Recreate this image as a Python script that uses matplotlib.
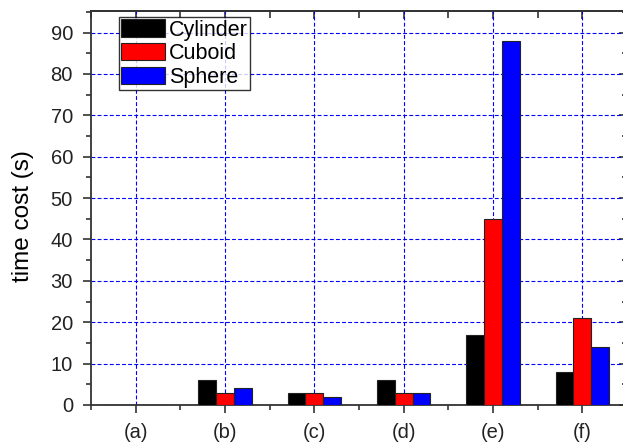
import numpy as np
import matplotlib.pyplot as plt
from matplotlib.ticker import MultipleLocator

plt.rcParams['font.family'] = ['Liberation Sans', 'DejaVu Sans']

# data
cases = ['(a)', '(b)', '(c)', '(d)', '(e)', '(f)']
cylinder = [0, 6, 3, 6, 17, 8]
cuboid = [0, 3, 3, 3, 45, 21]
sphere = [0, 4, 2, 3, 88, 14]

fig = plt.figure(figsize=(6.23, 4.43), dpi=100)
# right spine falls just outside the picture, like the reference crop
ax = fig.add_axes([91 / 623, 38 / 443, 536 / 623, 394 / 443])

x = np.arange(1, len(cases) + 1)
w = 0.2
ax.bar(x - w, cylinder, w, color='black', edgecolor='#222222', linewidth=0.8, label='Cylinder', zorder=3)
ax.bar(x, cuboid, w, color='red', edgecolor='#222222', linewidth=0.8, label='Cuboid', zorder=3)
ax.bar(x + w, sphere, w, color='blue', edgecolor='#222222', linewidth=0.8, label='Sphere', zorder=3)

ax.set_xlim(0.5, 6.5)
ax.set_ylim(0, 95.2)
ax.set_xticks(x)
ax.set_xticklabels(cases)
ax.xaxis.set_minor_locator(MultipleLocator(0.5))
ax.yaxis.set_major_locator(MultipleLocator(10))
ax.yaxis.set_minor_locator(MultipleLocator(5))

ax.grid(True, which='major', color='blue', linestyle=(0, (3.5, 2)), linewidth=0.8, zorder=1)

ax.tick_params(axis='both', which='both', labelsize=14.5, width=1.1, colors='#222222', direction='out')
ax.tick_params(axis='x', pad=7)
ax.tick_params(axis='y', pad=7)
ax.tick_params(which='major', length=6)
ax.tick_params(which='minor', length=3.5)
for sp in ax.spines.values():
    sp.set_linewidth(1.3)
    sp.set_color('#333333')

# top and right ticks point inward
top = ax.secondary_xaxis('top')
top.set_xticks(x)
top.xaxis.set_minor_locator(MultipleLocator(0.5))
top.tick_params(which='both', direction='in', labeltop=False, width=1.1, colors='#222222')
top.tick_params(which='major', length=6)
top.tick_params(which='minor', length=5)
right = ax.secondary_yaxis('right')
right.yaxis.set_major_locator(MultipleLocator(10))
right.yaxis.set_minor_locator(MultipleLocator(5))
right.tick_params(which='both', direction='in', labelright=False, width=1.1, colors='#222222')
right.tick_params(which='major', length=6)
right.tick_params(which='minor', length=3.5)
for s in (top, right):
    for sp in s.spines.values():
        sp.set_linewidth(1.3)
        sp.set_color('#333333')

ax.set_ylabel('time cost (s)', fontsize=17.5)
ax.yaxis.set_label_coords(-0.106, 0.48)

leg = ax.legend(loc='upper left', bbox_to_anchor=(0.052, 0.985), fontsize=15.5,
                frameon=True, fancybox=False, shadow=False, borderpad=0.12,
                handlelength=2.0, handleheight=0.85, handletextpad=0.2,
                labelspacing=0.12, borderaxespad=0.0)
leg.get_frame().set_edgecolor('black')
leg.get_frame().set_linewidth(1.0)
leg.set_zorder(5)

fig.savefig('out.png', dpi=100)
